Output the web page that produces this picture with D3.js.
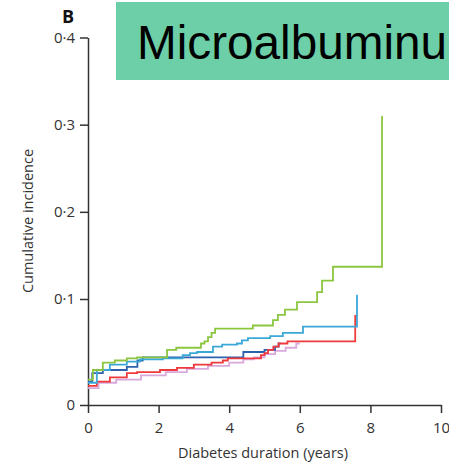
<!DOCTYPE html>
<html>
<head>
<meta charset="utf-8">
<script src="https://cdnjs.cloudflare.com/ajax/libs/d3/7.8.5/d3.min.js"></script>
<style>
  body { margin: 0; background: #fff; }
  svg { display: block; }
</style>
</head>
<body>
<script>
var svgWidth = 449
var svgHeight = 465

// chart values
var xTicks = [0, 2, 4, 6, 8, 10]
var yTicks = [0, 0.1, 0.2, 0.3, 0.4]

// [years, cumulative incidence] step points
var greenSeries = [[0, 0.024], [0.14, 0.033], [0.42, 0.040], [0.76, 0.042], [1.1, 0.044], [1.39, 0.045],
  [2.24, 0.052], [2.5, 0.054], [3.2, 0.058], [3.3, 0.060], [3.4, 0.064], [3.5, 0.068], [3.6, 0.072],
  [4.67, 0.075], [5.24, 0.080], [5.38, 0.085], [5.58, 0.090], [5.92, 0.097], [6.49, 0.108],
  [6.63, 0.121], [6.94, 0.137], [8.33, 0.137], [8.33, 0.31]]
var cyanSeries = [[0, 0.021], [0.25, 0.033], [0.62, 0.038], [1.1, 0.041], [1.47, 0.043], [2.12, 0.044],
  [2.68, 0.047], [2.89, 0.049], [3.09, 0.050], [3.54, 0.055], [3.8, 0.057], [4.22, 0.058],
  [4.36, 0.061], [4.53, 0.063], [5.16, 0.065], [5.52, 0.068], [6.09, 0.074], [7.62, 0.074], [7.62, 0.105]]
var darkBlueSeries = [[0, 0.022], [0.12, 0.030], [0.42, 0.033], [1.1, 0.036], [1.4, 0.042], [1.55, 0.045],
  [4.4, 0.050], [5.0, 0.052], [5.3, 0.055], [5.4, 0.058], [5.45, 0.058]]
var redSeries = [[0, 0.018], [0.25, 0.022], [0.62, 0.026], [1.1, 0.030], [1.39, 0.031], [2.04, 0.033],
  [2.52, 0.035], [3.0, 0.038], [3.5, 0.040], [3.82, 0.042], [3.96, 0.044], [4.9, 0.047], [5.0, 0.049],
  [5.1, 0.052], [5.25, 0.055], [5.4, 0.058], [5.65, 0.060], [7.57, 0.060], [7.57, 0.085]]
var pinkSeries = [[0, 0.016], [0.3, 0.021], [0.8, 0.024], [1.5, 0.028], [2.2, 0.031], [2.8, 0.034],
  [3.4, 0.037], [4.0, 0.040], [4.4, 0.043], [4.7, 0.045], [5.0, 0.048], [5.3, 0.051], [5.6, 0.054],
  [5.9, 0.058], [6.0, 0.058]]

var svg = d3.select("body")
  .append("svg")
  .attr("width", svgWidth)
  .attr("height", svgHeight)

var x = d3.scaleLinear().domain([0, 10]).range([88, 441])
// the printed axis is not evenly spaced below 0.1
var y = d3.scaleLinear().domain([0, 0.1, 0.4]).range([405, 299, 37.5])

var fmt = d => d === 0 ? "0" : d3.format(".1f")(d).replace(".", "\u00b7")

// title box
svg.append("rect")
  .attr("x", 116).attr("y", 2)
  .attr("width", svgWidth - 116).attr("height", 78)
  .attr("fill", "#6ccfa7")
svg.append("text")
  .attr("x", 137).attr("y", 59)
  .attr("font-family", "Liberation Sans, Arial, sans-serif")
  .attr("font-size", 47.7)
  .attr("fill", "#000")
  .text("Microalbuminu")

svg.append("text")
  .attr("x", 62).attr("y", 23)
  .attr("font-family", "Open Sans, sans-serif")
  .attr("font-weight", "bold")
  .attr("font-size", 18)
  .attr("fill", "#111")
  .text("B")

// axes
var xAxis = svg.append("g")
  .attr("transform", "translate(0,405)")
  .call(d3.axisBottom(x).tickValues(xTicks).tickSize(8).tickSizeOuter(0).tickFormat(d => d))
var yAxis = svg.append("g")
  .attr("transform", "translate(88,0)")
  .call(d3.axisLeft(y).tickValues(yTicks).tickSize(8).tickSizeOuter(0).tickPadding(5).tickFormat(fmt))

svg.selectAll(".domain").attr("stroke", "#333").attr("stroke-width", 1.5)
svg.selectAll(".tick line").attr("stroke", "#333").attr("stroke-width", 1.5)
svg.selectAll(".tick text")
  .attr("font-family", "Open Sans, sans-serif")
  .attr("font-size", 15)
  .attr("fill", "#333")
xAxis.selectAll(".tick text").attr("dy", "1.1em")

svg.append("text")
  .attr("x", 263).attr("y", 458)
  .attr("text-anchor", "middle")
  .attr("font-family", "Open Sans, sans-serif")
  .attr("font-size", 14.5)
  .attr("fill", "#333")
  .text("Diabetes duration (years)")
svg.append("text")
  .attr("transform", "translate(33,221) rotate(-90)")
  .attr("text-anchor", "middle")
  .attr("font-family", "Open Sans, sans-serif")
  .attr("font-size", 14.5)
  .attr("fill", "#333")
  .text("Cumulative incidence")

// step curves
var line = d3.line()
  .x(d => x(d[0]))
  .y(d => y(d[1]))
  .curve(d3.curveStepAfter)

var curves = [
  { data: pinkSeries, color: "#d9a8dc" },
  { data: darkBlueSeries, color: "#2c62ad" },
  { data: redSeries, color: "#ee3a3c" },
  { data: cyanSeries, color: "#3ba8d8" },
  { data: greenSeries, color: "#8cc641" }
]

svg.append("g").selectAll("path")
  .data(curves)
  .enter()
  .append("path")
  .attr("d", d => line(d.data))
  .attr("fill", "none")
  .attr("stroke", d => d.color)
  .attr("stroke-width", 1.8)
</script>
</body>
</html>
